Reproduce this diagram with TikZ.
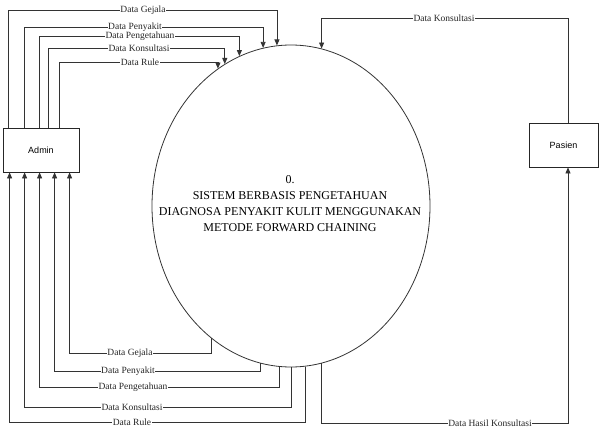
\documentclass[tikz,border=0pt]{standalone}
\usepackage{fontspec}
\setmainfont{Liberation Serif}
\newfontfamily\boxfont{Liberation Sans}
\usetikzlibrary{arrows.meta,shapes.geometric,calc}
\begin{document}
\begin{tikzpicture}[x=1pt,y=-1pt,
  flow/.style={draw=black!80, line width=0.8pt},
  arr/.style={-{Triangle[width=5pt,length=6pt]}},
  lbl/.style={fill=white, inner sep=0.6pt, font=\fontsize{9.5}{10}\selectfont, text=black!85},
  ent/.style={draw=black!85, line width=0.8pt, minimum height=44pt, inner sep=0pt, font=\boxfont\fontsize{9}{11}\selectfont}]
\useasboundingbox (0,0) rectangle (600,431);

% entities and process
\node[ent, minimum width=76pt] (admin) at (41,150) {Admin};
\node[ent, minimum width=69pt] (pasien) at (563.5,145) {Pasien};
\node[ellipse, draw=black!80, line width=0.8pt, minimum width=278pt, minimum height=322pt, inner sep=0pt] (sys) at (291,206) {};
\node[align=center, font=\fontsize{12}{16}\selectfont] (systxt) at (290,204)
  {0.\\SISTEM BERBASIS PENGETAHUAN\\DIAGNOSA PENYAKIT KULIT MENGGUNAKAN\\METODE FORWARD CHAINING};

% ports
\coordinate (tG) at ($(admin.north west)+(6,0)$);
\coordinate (tP) at ($(admin.north west)+(22,0)$);
\coordinate (tK) at ($(admin.north west)+(37,0)$);
\coordinate (tC) at ($(admin.north west)+(46,0)$);
\coordinate (tR) at ($(admin.north west)+(57,0)$);
\coordinate (bR) at ($(admin.south west)+(7,0)$);
\coordinate (bC) at ($(admin.south west)+(22,0)$);
\coordinate (bK) at ($(admin.south west)+(37,0)$);
\coordinate (bP) at ($(admin.south west)+(52,0)$);
\coordinate (bG) at ($(admin.south west)+(67,0)$);
\coordinate (pt) at ($(pasien.north)+(4.5,0)$);
\coordinate (pb) at ($(pasien.south)+(4.5,0)$);

% levels
\coordinate (yTG) at (0,10);
\coordinate (yTP) at (0,27);
\coordinate (yTK) at (0,36);
\coordinate (yTC) at (0,48);
\coordinate (yTR) at (0,62);
\coordinate (yPK) at (0,18);
\coordinate (yBG) at (0,353);
\coordinate (yBP) at (0,371);
\coordinate (yBK) at (0,387);
\coordinate (yBC) at (0,407);
\coordinate (yBR) at (0,422);
\coordinate (yH) at (0,423);

% Admin -> system
\draw[flow,arr] (tG) |- (sys.95 |- yTG) -- (sys.95);
\draw[flow,arr] (tP) |- (sys.100.4 |- yTP) -- (sys.100.4);
\draw[flow,arr] (tK) |- (sys.109.2 |- yTK) -- (sys.109.2);
\draw[flow,arr] (tC) |- (sys.115.8 |- yTC) -- (sys.115.8);
\draw[flow,arr] (tR) |- (sys.118.95 |- yTR) -- (sys.118.95);

% Pasien -> system
\draw[flow,arr] (pt) |- (sys.79.2 |- yPK) -- (sys.79.2);

% system -> Admin
\draw[flow,arr] (sys.239.66) |- (bG |- yBG) -- (bG);
\draw[flow,arr] (sys.259.57) |- (bP |- yBP) -- (bP);
\draw[flow,arr] (sys.266.44) |- (bK |- yBK) -- (bK);
\draw[flow,arr] (sys.270) |- (bC |- yBC) -- (bC);
\draw[flow,arr] (sys.275.35) |- (bR |- yBR) -- (bR);

% system -> Pasien
\draw[flow,arr] (sys.281.54) |- (pb |- yH) -- (pb);

% labels
\node[lbl] (l1) at (143,10) {Data Gejala};
\node[lbl] (l2) at (135,27) {Data Penyakit};
\node[lbl] (l3) at (140,36) {Data Pengetahuan};
\node[lbl] (l4) at (139,48) {Data Konsultasi};
\node[lbl] (l5) at (140,62) {Data Rule};
\node[lbl] (l6) at (444,18) {Data Konsultasi};
\node[lbl] (l7) at (130,353) {Data Gejala};
\node[lbl] (l8) at (128,371) {Data Penyakit};
\node[lbl] (l9) at (133,387) {Data Pengetahuan};
\node[lbl] (l10) at (132,407) {Data Konsultasi};
\node[lbl] (l11) at (132,422) {Data Rule};
\node[lbl] (l12) at (490,423) {Data Hasil Konsultasi};
\end{tikzpicture}
\end{document}
